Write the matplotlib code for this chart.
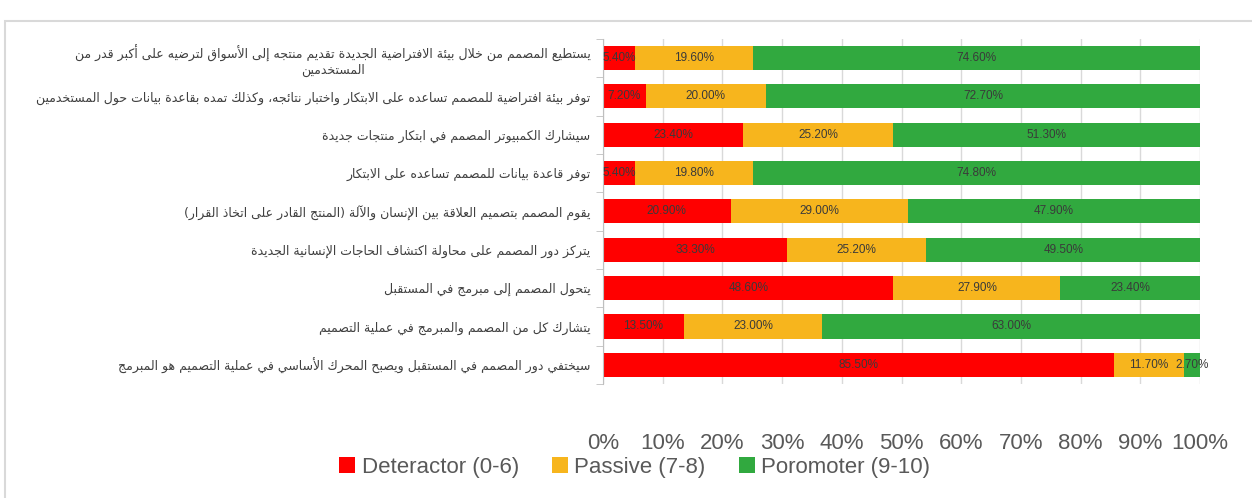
import numpy as np
import matplotlib.pyplot as plt
from matplotlib.patches import Rectangle

# -------------------------------
# data (top row first)
# -------------------------------

questions = [
    "يستطيع المصمم من خلال بيئة الافتراضية الجديدة تقديم منتجه إلى الأسواق لترضيه على أكبر قدر من\nالمستخدمين",
    "توفر بيئة افتراضية للمصمم تساعده على الابتكار واختبار نتائجه، وكذلك تمده بقاعدة بيانات حول المستخدمين",
    "سيشارك الكمبيوتر المصمم في ابتكار منتجات جديدة",
    "توفر قاعدة بيانات للمصمم تساعده على الابتكار",
    "يقوم المصمم بتصميم العلاقة بين الإنسان والآلة (المنتج القادر على اتخاذ القرار)",
    "يتركز دور المصمم على محاولة اكتشاف الحاجات الإنسانية الجديدة",
    "يتحول المصمم إلى مبرمج في المستقبل",
    "يتشارك كل من المصمم والمبرمج في عملية التصميم",
    "سيختفي دور المصمم في المستقبل ويصبح المحرك الأساسي في عملية التصميم هو المبرمج",
]

deteractor = [5.4, 7.2, 23.4, 5.4, 20.9, 33.3, 48.6, 13.5, 85.5]
passive = [19.6, 20.0, 25.2, 19.8, 29.0, 25.2, 27.9, 23.0, 11.7]
poromoter = [74.6, 72.7, 51.3, 74.8, 47.9, 49.5, 23.4, 63.0, 2.7]

series_names = ["Deteractor (0-6)", "Passive (7-8)", "Poromoter (9-10)"]
colors = ["#FF0000", "#F7B51D", "#31A93F"]

x_ticks = [0, 10, 20, 30, 40, 50, 60, 70, 80, 90, 100]


# -------------------------------
# minimal arabic shaping (no bidi libs available)
# -------------------------------

def build_forms():
    counts = [(0x621, 1), (0x622, 2), (0x623, 2), (0x624, 2), (0x625, 2),
              (0x626, 4), (0x627, 2), (0x628, 4), (0x629, 2)]
    counts += [(c, 4) for c in range(0x62A, 0x62F)]
    counts += [(0x62F, 2), (0x630, 2), (0x631, 2), (0x632, 2)]
    counts += [(c, 4) for c in range(0x633, 0x63B)]
    counts += [(c, 4) for c in range(0x641, 0x648)]
    counts += [(0x648, 2), (0x649, 2), (0x64A, 4)]
    forms = {}
    code = 0xFE80
    for ch, n in counts:
        forms[chr(ch)] = [chr(code + i) for i in range(n)]
        code += n
    return forms


FORMS = build_forms()
LAM_ALEF = {"\u0622": ("\uFEF5", "\uFEF6"), "\u0623": ("\uFEF7", "\uFEF8"),
            "\u0625": ("\uFEF9", "\uFEFA"), "\u0627": ("\uFEFB", "\uFEFC")}
MIRROR = {"(": ")", ")": "("}


def shape_line(text):
    units = []
    i = 0
    while i < len(text):
        c = text[i]
        if c == "\u0644" and i + 1 < len(text) and text[i + 1] in LAM_ALEF:
            units.append(("LA", text[i + 1]))
            i += 2
        else:
            units.append(("C", c))
            i += 1

    def joins_forward(u):
        return u[0] == "C" and u[1] in FORMS and len(FORMS[u[1]]) == 4

    def joins_back(u):
        return u[0] == "LA" or (u[1] in FORMS and len(FORMS[u[1]]) >= 2)

    out = []
    for k, u in enumerate(units):
        prev = k > 0 and joins_forward(units[k - 1]) and joins_back(u)
        nxt = joins_forward(u) and k + 1 < len(units) and joins_back(units[k + 1])
        if u[0] == "LA":
            out.append(LAM_ALEF[u[1]][1 if prev else 0])
        elif u[1] in FORMS:
            f = FORMS[u[1]]
            if len(f) == 4:
                out.append(f[[[0, 2], [1, 3]][prev][nxt]])
            elif len(f) == 2:
                out.append(f[1 if prev else 0])
            else:
                out.append(f[0])
        else:
            out.append(u[1])
    return "".join(MIRROR.get(c, c) for c in reversed(out))


def shape(text):
    return "\n".join(shape_line(t) for t in text.split("\n"))


# -------------------------------
# plot
# -------------------------------

num_font = "Liberation Sans"

fig = plt.figure(figsize=(12.52, 4.98), dpi=100)
ax = fig.add_axes([0.4816, 0.229, 0.477, 0.693])

det = np.array(deteractor)
pas = np.array(passive)
pro = np.array(poromoter)
total = det + pas + pro
y = np.arange(len(questions))

left = np.zeros(len(questions))
for vals, name, col in zip([det, pas, pro], series_names, colors):
    widths = vals / total * 100
    ax.barh(y, widths, left=left, height=0.63, color=col, label=name, zorder=2)
    for yi, l, w, v in zip(y, left, widths, vals):
        ax.text(l + w / 2, yi, f"{v:.2f}%", ha="center", va="center",
                fontsize=8.5, color="#3a3a3a", family=num_font, zorder=3)
    left = left + widths

ax.set_xlim(0, 100)
ax.set_ylim(len(questions) - 0.5, -0.5)
ax.set_xticks(x_ticks)
ax.set_xticklabels([f"{v}%" for v in x_ticks], fontsize=16, color="#595959",
                   family=num_font)
ax.tick_params(axis="x", length=0, pad=35)

ax.set_yticks(y)
ax.set_yticklabels([shape(q) for q in questions], fontsize=9, color="#404040",
                   family="DejaVu Sans", multialignment="center")
ax.tick_params(axis="y", length=0, pad=9)
ax.set_yticks(np.arange(len(questions) + 1) - 0.5, minor=True)
ax.tick_params(axis="y", which="minor", length=5, color="#BFBFBF")

ax.set_axisbelow(True)
ax.xaxis.grid(True, color="#D9D9D9", lw=1)
for s in ["top", "right", "bottom"]:
    ax.spines[s].set_visible(False)
ax.spines["left"].set_color("#BFBFBF")

leg = fig.legend(loc="center", bbox_to_anchor=(0.507, 0.062), ncol=3,
                 frameon=False, handlelength=0.7, handleheight=0.7,
                 handletextpad=0.3, columnspacing=1.5,
                 prop={"family": num_font, "size": 16})
for t in leg.get_texts():
    t.set_color("#595959")

fig.add_artist(Rectangle((0.004, -0.01), 1.0, 0.968, transform=fig.transFigure,
                         fill=False, ec="#D9D9D9", lw=1.5))

fig.savefig("out.png", dpi=100)
